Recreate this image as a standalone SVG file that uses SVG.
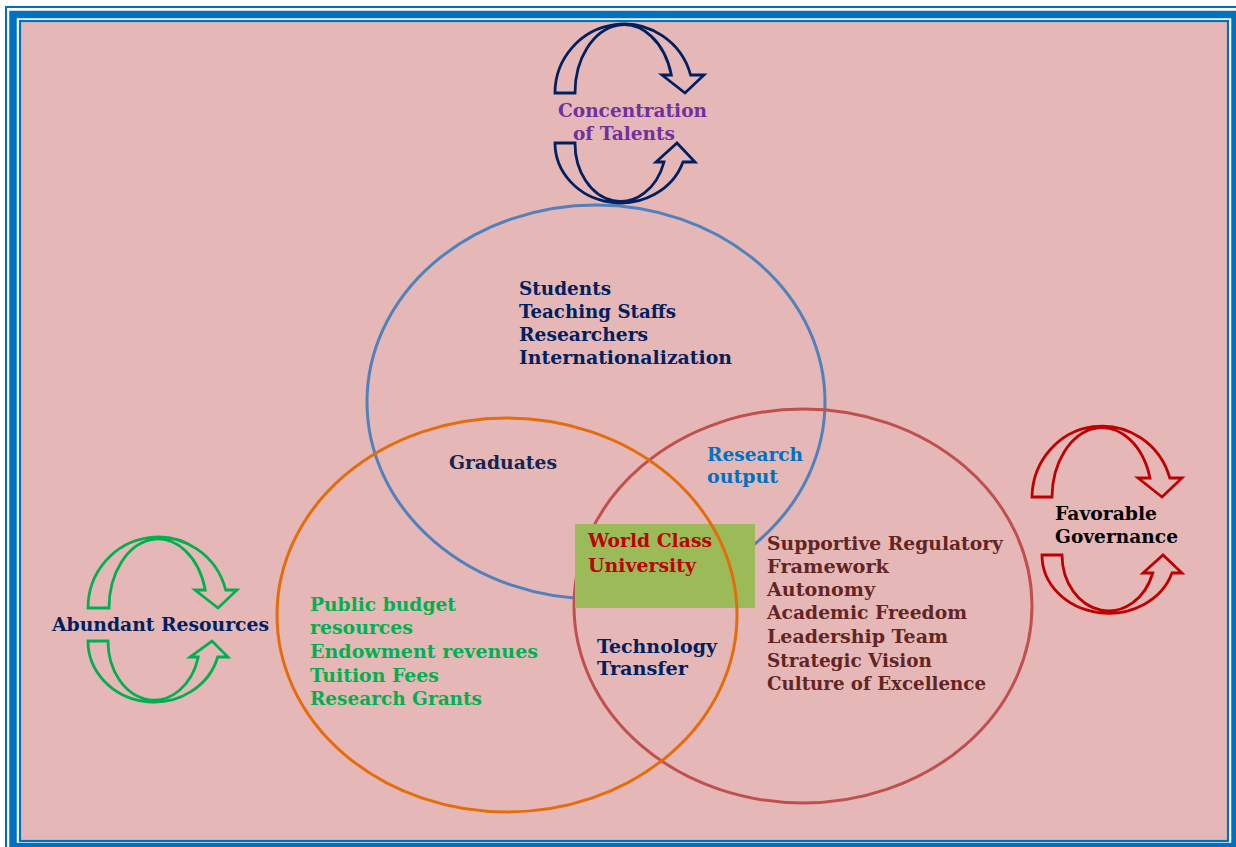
<svg xmlns="http://www.w3.org/2000/svg" width="1236" height="847" viewBox="0 0 1236 847">
<style>
.t{font-family:"DejaVu Serif","Liberation Serif",serif;font-weight:bold;font-size:19px}
.navy{fill:#002060}.purple{fill:#7030A0}.green{fill:#00B050}.red{fill:#C00000}.blue{fill:#0070C0}.maroon{fill:#632523}.black{fill:#000}
.arr{fill:none;stroke-width:2.8;stroke-linejoin:miter}
.ring{fill:none;stroke-width:3}
</style>
<rect width="1236" height="847" fill="#fff"/>
<g id="frame">
<rect x="6" y="7" width="1240" height="850" fill="none" stroke="#0070C0" stroke-width="2"/>
<rect x="13" y="14.5" width="1222" height="832" fill="none" stroke="#0070C0" stroke-width="7.5"/>
<rect x="20" y="21" width="1208" height="820" fill="#E5B8B7" stroke="#0070C0" stroke-width="2.2"/>
</g>
<g id="circles">
<ellipse id="circle-talents" class="ring" cx="596" cy="402" rx="229" ry="197" stroke="#4F81BD"/>
<ellipse id="circle-governance" class="ring" cx="803" cy="606" rx="229" ry="197" stroke="#C0504D"/>
<rect id="wcu-box" x="575" y="524" width="180" height="84" fill="#9BBB59"/>
<ellipse id="circle-resources" class="ring" cx="507" cy="615" rx="230" ry="197" stroke="#E46C0A"/>
</g>
<g id="cycle-talents" stroke="#002060">
<path class="arr" d="M555,93 A69,69 0 0 1 690.6,75 L704,75 L685,93 L662,75 L671.3,75 A49,68 0 0 0 575,93 Z"/>
<path class="arr" d="M555,143 A65.7,60 0 0 0 683,162 L695,162 L677,143 L656,162 L664,162 A45.7,58 0 0 1 575,143 Z"/>
<text class="t purple" x="558" y="117" textLength="149" lengthAdjust="spacingAndGlyphs" stroke="none">Concentration</text>
<text class="t purple" x="573" y="140" textLength="102" lengthAdjust="spacingAndGlyphs" stroke="none">of Talents</text>
</g>
<g id="cycle-governance" stroke="#C00000">
<path class="arr" d="M1032,497 A70.3,72 0 0 1 1169.8,478 L1182,478 L1162,497 L1138,478 L1150,478 A50,70 0 0 0 1052,497 Z"/>
<path class="arr" d="M1042,555 A66.6,58 0 0 0 1172,573 L1182,573 L1163,555 L1143,573 L1152.7,573 A46.6,56 0 0 1 1062,555 Z"/>
<text class="t black" x="1055" y="520" textLength="102" lengthAdjust="spacingAndGlyphs" stroke="none">Favorable</text>
<text class="t black" x="1055" y="543" textLength="123" lengthAdjust="spacingAndGlyphs" stroke="none">Governance</text>
</g>
<g id="cycle-resources" stroke="#00B050">
<path class="arr" d="M88,608 A70,71 0 0 1 225.7,590 L237,590 L218,608 L195,590 L205.3,590 A49,69 0 0 0 109,608 Z"/>
<path class="arr" d="M88,641 A66,61 0 0 0 217.7,657 L228,657 L212,641 L190,657 L198.3,657 A46,59 0 0 1 108,641 Z"/>
<text class="t navy" x="52" y="631" textLength="217" lengthAdjust="spacingAndGlyphs" stroke="none">Abundant Resources</text>
</g>
<g id="talents-text" class="t navy">
<text x="519" y="295" textLength="92" lengthAdjust="spacingAndGlyphs">Students</text>
<text x="519" y="318" textLength="157" lengthAdjust="spacingAndGlyphs">Teaching Staffs</text>
<text x="519" y="341" textLength="129" lengthAdjust="spacingAndGlyphs">Researchers</text>
<text x="519" y="364" textLength="213" lengthAdjust="spacingAndGlyphs">Internationalization</text>
</g>
<g id="graduates">
<text class="t" fill="#14254F" x="449" y="469" textLength="108" lengthAdjust="spacingAndGlyphs">Graduates</text>
</g>
<g id="research-output" class="t blue">
<text x="707" y="461" textLength="96" lengthAdjust="spacingAndGlyphs">Research</text>
<text x="707" y="483" textLength="71" lengthAdjust="spacingAndGlyphs">output</text>
</g>
<g id="wcu" class="t red">
<text x="588" y="547" textLength="124" lengthAdjust="spacingAndGlyphs">World Class</text>
<text x="588" y="572" textLength="108" lengthAdjust="spacingAndGlyphs">University</text>
</g>
<g id="tech-transfer" class="t navy">
<text x="597" y="653" textLength="120" lengthAdjust="spacingAndGlyphs">Technology</text>
<text x="597" y="675" textLength="91" lengthAdjust="spacingAndGlyphs">Transfer</text>
</g>
<g id="resources-text" class="t green">
<text x="310" y="611" textLength="146" lengthAdjust="spacingAndGlyphs">Public budget</text>
<text x="310" y="634" textLength="103" lengthAdjust="spacingAndGlyphs">resources</text>
<text x="310" y="658" textLength="228" lengthAdjust="spacingAndGlyphs">Endowment revenues</text>
<text x="310" y="682" textLength="129" lengthAdjust="spacingAndGlyphs">Tuition Fees</text>
<text x="310" y="705" textLength="172" lengthAdjust="spacingAndGlyphs">Research Grants</text>
</g>
<g id="governance-text" class="t maroon">
<text x="767" y="550" textLength="236" lengthAdjust="spacingAndGlyphs">Supportive Regulatory</text>
<text x="767" y="573" textLength="122" lengthAdjust="spacingAndGlyphs">Framework</text>
<text x="767" y="596" textLength="108" lengthAdjust="spacingAndGlyphs">Autonomy</text>
<text x="767" y="619" textLength="200" lengthAdjust="spacingAndGlyphs">Academic Freedom</text>
<text x="767" y="643" textLength="181" lengthAdjust="spacingAndGlyphs">Leadership Team</text>
<text x="767" y="667" textLength="165" lengthAdjust="spacingAndGlyphs">Strategic Vision</text>
<text x="767" y="690" textLength="219" lengthAdjust="spacingAndGlyphs">Culture of Excellence</text>
</g>
</svg>
